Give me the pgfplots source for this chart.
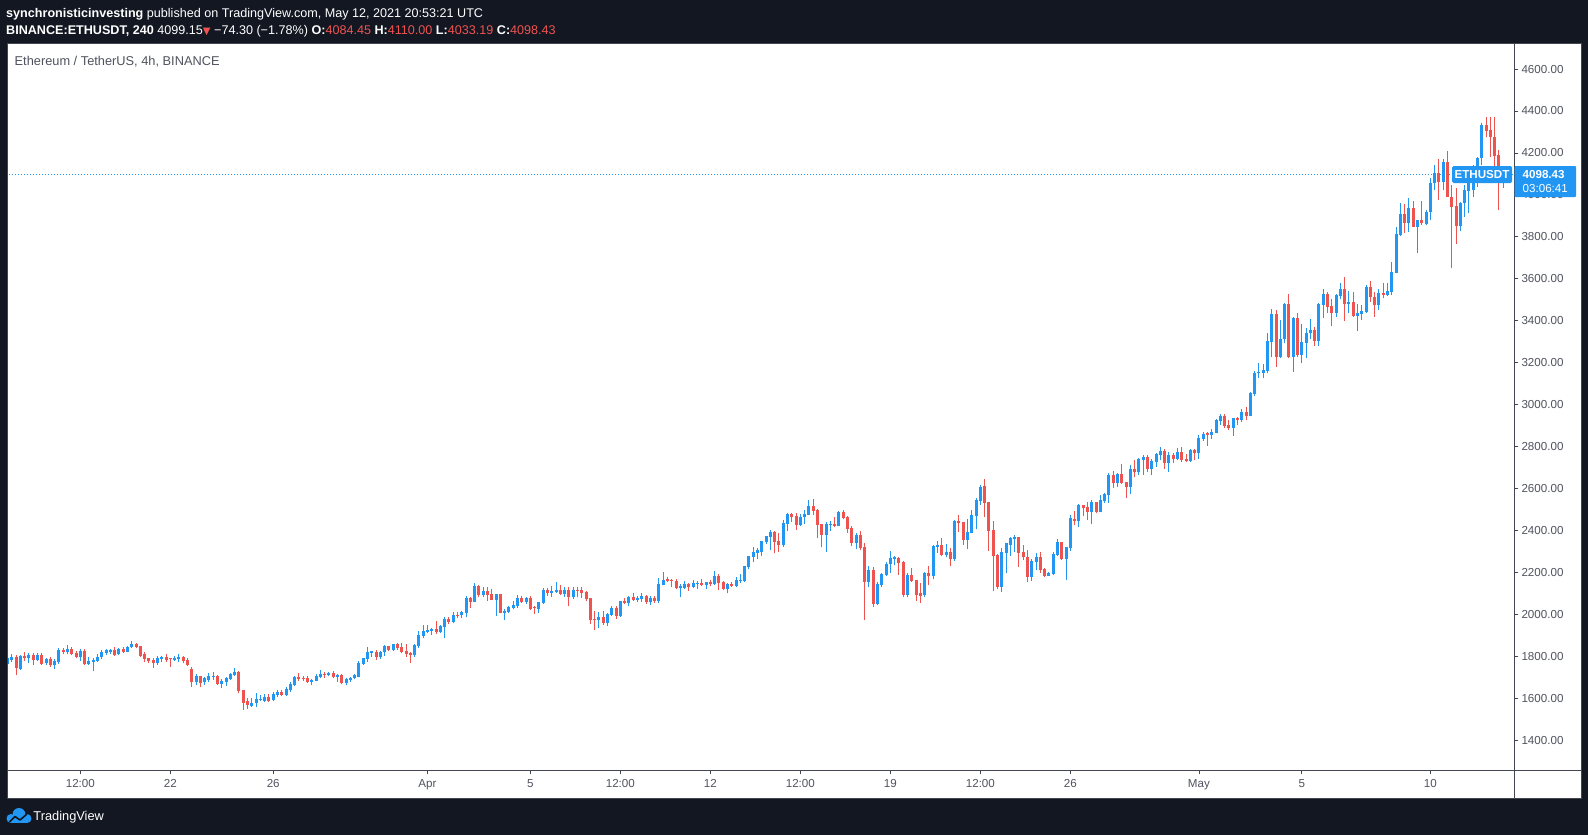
\documentclass[border=0pt]{standalone}
\usepackage{fontspec}
\setmainfont{Liberation Sans}
\newfontfamily\dejavu{DejaVu Sans}
\usepackage{pgfplots}
\pgfplotsset{compat=1.18}
\usepackage{pgfplotstable}
\definecolor{tvbg}{HTML}{131722}
\definecolor{tvblue}{HTML}{2196F3}
\definecolor{tvred}{HTML}{EF5350}
\definecolor{tvgray}{HTML}{50535E}
\definecolor{tvline}{HTML}{434651}

\pgfplotstableread{
i o h l c
0 1762 1797 1750 1793
1 1781 1810 1774 1796
3 1737 1805 1734 1801
5 1793 1813 1766 1807
7 1781 1813 1778 1807
9 1766 1793 1758 1788
11 1758 1785 1739 1778
12 1770 1840 1762 1829
14 1818 1853 1809 1834
17 1797 1832 1778 1824
19 1762 1797 1759 1778
20 1774 1789 1729 1781
21 1778 1812 1774 1796
22 1794 1829 1785 1821
23 1816 1834 1805 1828
24 1821 1832 1812 1829
26 1809 1840 1804 1836
28 1821 1847 1818 1844
29 1842 1872 1837 1859
35 1769 1801 1758 1793
36 1788 1802 1774 1797
39 1781 1801 1778 1793
40 1788 1810 1774 1797
44 1678 1715 1662 1705
46 1678 1702 1662 1694
47 1686 1718 1678 1705
48 1699 1723 1686 1705
50 1667 1689 1646 1683
51 1678 1702 1659 1697
52 1691 1721 1686 1715
53 1710 1742 1707 1724
57 1564 1599 1559 1575
58 1575 1622 1559 1595
59 1591 1615 1585 1597
60 1585 1619 1580 1607
62 1590 1629 1585 1619
63 1615 1638 1607 1629
65 1615 1653 1610 1642
66 1638 1677 1630 1667
67 1662 1704 1657 1700
71 1677 1693 1662 1686
72 1683 1715 1680 1705
73 1699 1734 1694 1715
75 1708 1724 1704 1720
77 1702 1715 1678 1712
79 1670 1694 1661 1691
80 1686 1702 1678 1697
81 1696 1713 1689 1708
82 1702 1777 1700 1767
83 1764 1793 1759 1789
84 1788 1842 1774 1820
85 1816 1826 1797 1823
87 1797 1826 1788 1821
88 1818 1853 1801 1848
90 1829 1860 1824 1858
95 1805 1858 1797 1851
96 1848 1920 1837 1901
97 1896 1948 1885 1921
98 1915 1948 1909 1926
99 1921 1936 1901 1931
101 1915 1948 1909 1944
102 1941 1985 1885 1977
104 1963 2012 1956 1996
106 1995 2014 1980 2009
107 2004 2087 1985 2077
109 2060 2147 2058 2134
111 2093 2128 2084 2109
114 2069 2098 1991 2096
116 2007 2023 1972 2017
117 2012 2039 2004 2034
118 2030 2063 2023 2044
119 2039 2090 2031 2077
121 2058 2082 2049 2077
124 2026 2060 2007 2057
125 2052 2126 2049 2115
127 2101 2134 2084 2111
128 2106 2153 2103 2115
130 2096 2131 2084 2115
132 2080 2131 2074 2115
138 1972 2010 1934 1987
140 1958 2007 1944 2001
141 1996 2039 1991 2030
143 1991 2065 1989 2063
145 2053 2087 2039 2082
147 2068 2087 2058 2077
148 2072 2101 2058 2087
150 2058 2087 2045 2077
152 2063 2174 2055 2144
153 2139 2201 2137 2163
157 2125 2144 2082 2134
158 2125 2158 2120 2144
160 2130 2163 2125 2149
161 2144 2158 2120 2149
163 2139 2155 2120 2153
165 2144 2206 2139 2182
168 2120 2149 2101 2144
170 2134 2177 2132 2163
171 2158 2192 2149 2163
172 2158 2232 2156 2230
173 2225 2279 2215 2277
174 2273 2320 2249 2297
175 2293 2314 2265 2305
176 2298 2351 2277 2347
177 2344 2375 2335 2373
178 2368 2402 2306 2394
181 2330 2449 2322 2435
182 2430 2484 2397 2478
185 2427 2476 2421 2462
186 2462 2497 2430 2478
187 2475 2545 2472 2516
191 2378 2441 2297 2430
192 2425 2444 2398 2430
194 2421 2494 2419 2489
198 2341 2386 2309 2378
201 2155 2230 2131 2211
203 2049 2153 2044 2144
204 2139 2195 2131 2192
205 2187 2249 2182 2239
206 2238 2303 2198 2270
207 2265 2277 2233 2271
210 2092 2195 2080 2187
214 2092 2201 2080 2196
216 2182 2330 2166 2325
217 2319 2349 2293 2330
219 2282 2335 2271 2297
221 2265 2449 2255 2446
224 2354 2452 2309 2394
225 2389 2497 2386 2473
226 2468 2553 2405 2545
227 2538 2614 2521 2609
232 2131 2316 2107 2297
233 2293 2341 2195 2338
234 2332 2370 2278 2363
235 2359 2376 2298 2368
239 2179 2265 2160 2254
240 2251 2292 2211 2273
243 2184 2200 2182 2198
244 2192 2297 2187 2287
245 2282 2359 2278 2343
247 2263 2322 2163 2320
248 2316 2473 2303 2459
250 2446 2526 2414 2521
253 2489 2545 2429 2535
255 2489 2569 2487 2545
256 2542 2580 2529 2573
257 2569 2675 2532 2664
259 2624 2675 2608 2669
262 2607 2712 2573 2693
264 2678 2745 2664 2740
265 2735 2759 2664 2750
267 2693 2740 2664 2731
268 2726 2769 2704 2764
269 2759 2797 2735 2778
271 2721 2774 2678 2759
273 2740 2793 2735 2774
276 2731 2788 2726 2783
278 2769 2855 2740 2840
279 2836 2869 2826 2859
281 2855 2883 2836 2871
282 2866 2931 2863 2926
283 2923 2955 2902 2945
286 2890 2938 2850 2936
288 2926 2979 2918 2964
290 2945 3060 2943 3055
291 3050 3162 3040 3149
292 3149 3200 3125 3157
293 3152 3192 3125 3165
294 3162 3340 3152 3305
295 3300 3454 3228 3432
297 3228 3403 3220 3311
298 3311 3482 3292 3480
300 3228 3419 3157 3411
302 3236 3384 3197 3300
303 3295 3363 3220 3343
304 3340 3406 3311 3355
306 3305 3486 3281 3480
307 3476 3551 3411 3527
310 3438 3525 3419 3522
311 3517 3581 3502 3551
313 3480 3541 3435 3491
315 3424 3480 3352 3435
316 3432 3475 3403 3448
317 3443 3570 3435 3559
320 3475 3549 3451 3533
322 3522 3581 3520 3541
323 3537 3678 3522 3630
324 3629 3848 3627 3812
325 3810 3960 3804 3909
327 3867 3983 3821 3936
329 3848 3882 3724 3880
331 3861 3928 3856 3920
332 3920 4079 3880 4055
333 4055 4142 4023 4103
335 4063 4169 4023 4155
339 3851 3968 3829 3963
340 3960 4047 3896 4023
341 4018 4087 3912 4071
342 4023 4142 3991 4127
343 4063 4182 4039 4174
344 4174 4341 4142 4333
349 4084.45 4110 4033.19 4098.43
}\up

\pgfplotstableread{
i o h l c
2 1796 1805 1710 1745
4 1801 1820 1778 1789
6 1804 1816 1758 1781
8 1805 1816 1758 1762
10 1785 1797 1750 1758
13 1829 1840 1809 1818
15 1834 1844 1805 1810
16 1816 1824 1793 1797
18 1826 1834 1758 1762
25 1831 1844 1801 1805
27 1836 1842 1816 1821
30 1859 1864 1837 1845
31 1848 1850 1797 1802
32 1810 1821 1772 1788
33 1791 1793 1766 1777
34 1783 1789 1745 1769
37 1797 1812 1774 1783
38 1788 1793 1750 1785
41 1797 1802 1766 1778
42 1781 1789 1755 1758
43 1739 1750 1654 1678
45 1705 1707 1651 1673
49 1705 1710 1662 1667
54 1724 1729 1622 1635
55 1638 1640 1543 1578
56 1586 1599 1548 1567
61 1607 1619 1580 1588
64 1629 1638 1610 1615
68 1700 1718 1683 1691
69 1697 1705 1683 1689
70 1696 1705 1670 1677
74 1716 1723 1696 1710
76 1718 1729 1694 1700
78 1708 1713 1665 1673
86 1820 1829 1781 1797
89 1848 1850 1824 1829
91 1858 1863 1829 1837
92 1842 1863 1813 1820
93 1824 1858 1797 1812
94 1815 1820 1769 1805
100 1929 1968 1905 1915
103 1977 1985 1952 1963
105 1998 2010 1980 1993
108 2079 2084 2031 2060
110 2136 2139 2080 2093
112 2109 2128 2064 2092
113 2096 2118 2066 2069
115 2096 2098 2005 2007
120 2077 2087 2052 2058
122 2077 2087 2020 2026
123 2033 2039 2001 2028
126 2115 2125 2087 2100
129 2115 2139 2090 2096
131 2115 2128 2039 2082
133 2115 2128 2080 2112
134 2115 2131 2077 2100
135 2106 2112 2064 2071
136 2077 2079 1953 1972
137 1977 2015 1925 1972
139 1987 2015 1948 1956
142 2030 2039 1979 1991
144 2063 2077 2049 2053
146 2082 2101 2063 2068
149 2087 2092 2049 2058
151 2077 2087 2052 2063
154 2168 2177 2153 2158
155 2163 2168 2130 2158
156 2158 2168 2120 2125
159 2144 2149 2112 2130
162 2149 2168 2134 2139
164 2153 2163 2134 2144
166 2182 2192 2115 2149
167 2153 2158 2115 2120
169 2144 2153 2132 2134
179 2394 2397 2290 2344
180 2349 2386 2298 2330
183 2478 2484 2441 2465
184 2468 2484 2402 2427
188 2516 2548 2473 2494
189 2497 2500 2362 2425
190 2430 2432 2319 2378
193 2430 2465 2417 2421
195 2489 2497 2452 2460
196 2465 2468 2389 2408
197 2411 2422 2325 2341
199 2378 2398 2306 2316
200 2319 2338 1972 2155
202 2211 2224 2036 2049
208 2270 2274 2187 2246
209 2249 2254 2080 2092
211 2187 2222 2154 2160
212 2163 2165 2065 2092
213 2101 2149 2055 2087
215 2196 2230 2139 2182
218 2330 2365 2277 2282
220 2297 2314 2230 2265
222 2446 2473 2394 2433
223 2438 2441 2332 2354
228 2611 2645 2465 2532
229 2535 2537 2303 2398
230 2402 2444 2112 2278
231 2282 2287 2118 2131
236 2368 2370 2227 2293
237 2297 2330 2258 2271
238 2274 2306 2155 2179
241 2273 2297 2198 2211
242 2216 2219 2179 2184
246 2343 2345 2258 2263
249 2454 2492 2425 2446
251 2521 2523 2468 2508
252 2511 2535 2449 2489
254 2535 2537 2481 2487
258 2664 2683 2600 2624
260 2669 2716 2622 2624
261 2630 2632 2556 2607
263 2693 2735 2654 2678
266 2750 2759 2678 2693
270 2778 2788 2693 2721
272 2759 2770 2721 2740
274 2774 2797 2726 2735
275 2740 2764 2726 2731
277 2783 2788 2735 2769
280 2862 2871 2804 2855
284 2945 2955 2890 2898
285 2902 2926 2879 2890
287 2936 2941 2902 2926
289 2964 2988 2926 2945
296 3432 3451 3181 3228
299 3480 3527 3220 3228
301 3411 3435 3228 3236
305 3355 3371 3281 3305
308 3527 3538 3435 3467
309 3470 3502 3376 3438
312 3551 3608 3400 3480
314 3491 3538 3419 3424
318 3559 3589 3491 3511
319 3514 3538 3419 3475
321 3533 3581 3506 3524
326 3909 3956 3817 3867
328 3936 3972 3846 3848
330 3880 3972 3856 3864
334 4106 4169 3977 4063
336 4155 4209 3989 3991
337 3991 4047 3650 3944
338 3947 4031 3766 3851
345 4333 4373 4274 4306
346 4309 4370 4182 4274
347 4274 4373 4095 4185
348 4190 4214 3928 4119
}\dn

\pgfplotsset{candle/.style={only marks, mark=*, mark size=0pt, mark options={draw=none, fill=none}, forget plot,
  error bars/.cd, y dir=plus, y explicit, error mark=none}}

\begin{document}
\begin{tikzpicture}
\useasboundingbox (0,0) rectangle (1588bp,-835bp);
\begin{scope}[x=1bp,y=-1bp]
\fill[tvbg] (0,0) rectangle (1588,835);
\fill[white] (7,43.5) rectangle (1581,798);
\end{scope}
\begin{axis}[
  at={(7bp,-770bp)}, anchor=south west,
  width=1507bp, height=727bp, scale only axis,
  xmin=-0.117, xmax=351.52, ymin=1257, ymax=4724.3,
  axis x line*=bottom, axis y line*=right,
  axis line style={draw=none},
  tick align=outside, major tick length=4bp,
  tick style={tvline, line width=0.8bp},
  xtick={17,38,62,98,122,143,164,185,206,227,248,278,302,332},
  xticklabels={12:00,22,26,Apr,5,12:00,12,12:00,19,12:00,26,May,5,10},
  ytick={1400,1600,1800,2000,2200,2400,2600,2800,3000,3200,3400,3600,3800,4000,4200,4400,4600},
  yticklabels={1400.00,1600.00,1800.00,2000.00,2200.00,2400.00,2600.00,2800.00,3000.00,3200.00,3400.00,3600.00,3800.00,4000.00,4200.00,4400.00,4600.00},
  ticklabel style={font=\fontsize{11.6bp}{13bp}\selectfont, text=tvgray},
  xticklabel style={yshift=-1.5bp},
  clip=true,
]
\addplot[tvblue, line width=1bp, dash pattern=on 1bp off 2bp, forget plot] coordinates {(-1,4098.43) (352,4098.43)};
% wicks
\addplot[candle, error bar style={tvblue, line width=1bp}]
  table[x=i, y=l, y error plus expr=\thisrow{h}-\thisrow{l}] {\up};
\addplot[candle, error bar style={tvred, line width=1bp}]
  table[x=i, y=l, y error plus expr=\thisrow{h}-\thisrow{l}] {\dn};
% bodies
\addplot[candle, error bar style={tvblue, line width=3bp}]
  table[x=i, y=o, y error plus expr={max(\thisrow{c}-\thisrow{o},4)}] {\up};
\addplot[candle, error bar style={tvred, line width=3bp}]
  table[x=i, y=c, y error plus expr={max(\thisrow{o}-\thisrow{c},4)}] {\dn};
\end{axis}
\begin{scope}[x=1bp,y=-1bp]
\draw[tvline, line width=1bp] (7,43.5) rectangle (1581,798);
\draw[tvline, line width=1bp] (1514,43.5) -- (1514,798);
\draw[tvline, line width=1bp] (7,770) -- (1581,770);
% current price labels
\fill[tvblue, rounded corners=1.5bp] (1452,166) rectangle (1512,183);
\node[text=white, inner sep=0pt, font=\fontsize{11.6bp}{13bp}\selectfont\bfseries] at (1482,174.6) {ETHUSDT};
\fill[tvblue, rounded corners=1bp] (1514.5,166) rectangle (1576,197);
\node[anchor=west, text=white, inner sep=0pt, font=\fontsize{11.6bp}{13bp}\selectfont\bfseries] at (1522.5,174.6) {4098.43};
\node[anchor=west, text=white, inner sep=0pt, font=\fontsize{11.6bp}{13bp}\selectfont] at (1522.5,188.6) {03:06:41};
% header
\node[anchor=west, text=white, inner sep=0pt, font=\fontsize{12.6bp}{14bp}\selectfont] at (6,13.8)
  {\textbf{synchronisticinvesting} published on TradingView.com, May 12, 2021 20:53:21 UTC};
\node[anchor=west, text=white, inner sep=0pt, font=\fontsize{12.6bp}{14bp}\selectfont] at (6,31.2)
  {\textbf{BINANCE:ETHUSDT, 240} 4099.15{\color{tvred}\dejavu\fontsize{10bp}{11bp}\selectfont▼} −74.30 (−1.78\%) \textbf{O:}{\color{tvred}4084.45} \textbf{H:}{\color{tvred}4110.00} \textbf{L:}{\color{tvred}4033.19} \textbf{C:}{\color{tvred}4098.43}};
\node[anchor=west, text=tvgray, inner sep=0pt, font=\fontsize{12.8bp}{15bp}\selectfont] at (14.5,61.5)
  {Ethereum / TetherUS, 4h, BINANCE};
% footer logo
\fill[tvblue] (11,818.5) circle (4.5);
\fill[tvblue] (19,814.5) circle (6.5);
\fill[tvblue] (27,818.5) circle (4.5);
\fill[tvblue] (11,818.5) rectangle (27,823);
\draw[tvbg, line width=1.6bp, line join=round] (9.5,822) -- (15,816.5) -- (20,820) -- (27,814);
\node[anchor=west, text=white, inner sep=0pt, font=\fontsize{12.8bp}{15bp}\selectfont] at (33.3,816.7) {TradingView};
\end{scope}
\end{tikzpicture}
\end{document}
